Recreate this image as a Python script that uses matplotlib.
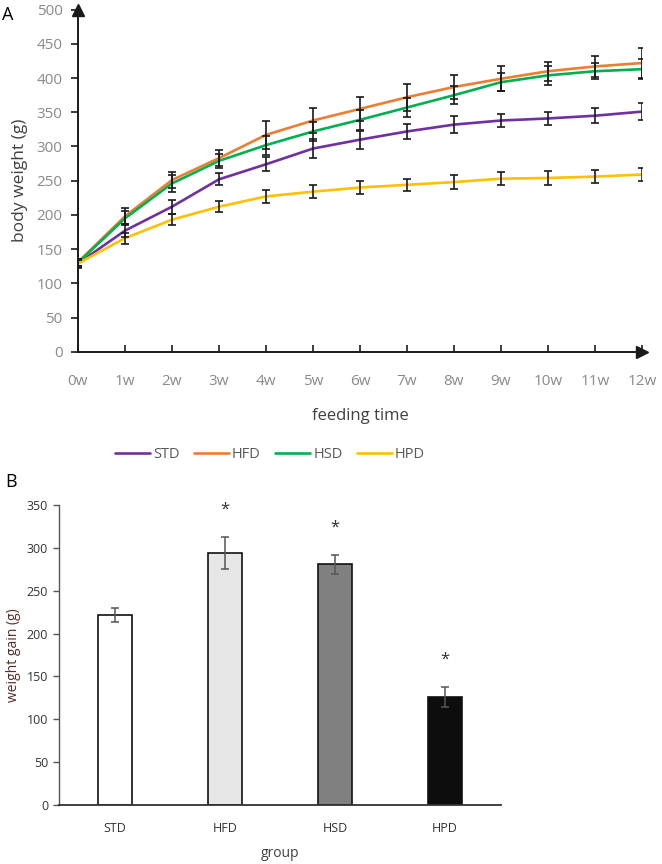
import matplotlib
matplotlib.use("Agg")
import matplotlib.pyplot as plt
import numpy as np

plt.rcParams['font.family'] = ['Open Sans', 'DejaVu Sans']

# ---- Panel A data ----
weeks = ['0w', '1w', '2w', '3w', '4w', '5w', '6w', '7w', '8w', '9w', '10w', '11w', '12w']
series_names = ['STD', 'HFD', 'HSD', 'HPD']
std_mean = [129, 177, 212, 252, 274, 297, 310, 322, 332, 338, 341, 345, 351]
hfd_mean = [131, 198, 251, 283, 317, 338, 355, 372, 387, 399, 410, 417, 422]
hsd_mean = [130, 195, 246, 279, 302, 322, 339, 357, 375, 394, 404, 410, 413]
hpd_mean = [129, 166, 193, 212, 227, 234, 240, 244, 248, 253, 254, 256, 259]
std_err = [6, 9, 10, 9, 10, 14, 13, 11, 12, 10, 10, 11, 12]
hfd_err = [5, 12, 12, 12, 20, 18, 18, 20, 17, 18, 14, 15, 22]
hsd_err = [5, 10, 12, 10, 14, 14, 15, 14, 13, 13, 14, 12, 15]
hpd_err = [5, 8, 8, 8, 9, 10, 10, 9, 10, 9, 10, 10, 10]
line_colors = ['#7030A0', '#ED7D31', '#00B050', '#FFC000']

# ---- Panel B data ----
groups = ['STD', 'HFD', 'HSD', 'HPD']
gain_mean = [222, 294, 281, 126]
gain_err = [8, 19, 11, 12]
gain_sig = ['', '*', '*', '*']
bar_colors = ['#ffffff', '#e6e6e6', '#808080', '#0d0d0d']

fig = plt.figure(figsize=(6.62, 8.64), dpi=100)

# ---------------- Panel A ----------------
axA = fig.add_axes([0.1178, 0.5929, 0.852, 0.3959])
x = np.arange(len(weeks))
means = [std_mean, hfd_mean, hsd_mean, hpd_mean]
errs = [std_err, hfd_err, hsd_err, hpd_err]
for i, (m, c, n) in enumerate(zip(means, line_colors, series_names)):
    axA.plot(x, m, color=c, lw=1.9, label=n, zorder=3 + i, solid_capstyle='round')
for i, (m, e) in enumerate(zip(means, errs)):
    axA.errorbar(x, m, yerr=e, fmt='none', ecolor='#1a1a1a', elinewidth=1.2,
                 capsize=3, capthick=1.2, zorder=8)

axA.set_xlim(0, 12)
axA.set_ylim(0, 500)
axA.set_yticks(np.arange(0, 501, 50))
axA.set_xticks(x)
axA.set_xticklabels(weeks)
for s in ['top', 'right']:
    axA.spines[s].set_visible(False)
for s in ['left', 'bottom']:
    axA.spines[s].set_color('#1a1a1a')
    axA.spines[s].set_linewidth(1.4)
axA.tick_params(axis='y', direction='out', length=5, width=1.2, color='#1a1a1a',
                labelsize=11, labelcolor='#8a8a8a', pad=6)
axA.tick_params(axis='x', direction='in', length=5, width=1.2, color='#1a1a1a',
                labelsize=11, labelcolor='#8a8a8a', pad=16)
axA.set_ylabel('body weight (g)', fontsize=12.5, color='#404040', labelpad=6)
axA.set_xlabel('feeding time', fontsize=12, color='#404040', labelpad=14)
# axis arrows
axA.plot([0], [1.0], marker='^', color='#1a1a1a', markersize=8,
         transform=axA.transAxes, clip_on=False, zorder=10)
axA.plot([1.0], [0], marker='>', color='#1a1a1a', markersize=8,
         transform=axA.transAxes, clip_on=False, zorder=10)

handles, labels = axA.get_legend_handles_labels()
fig.legend(handles, labels, loc='center', ncol=4, bbox_to_anchor=(0.408, 1 - 455 / 864),
           frameon=False, fontsize=10.5, handlelength=2.4, handletextpad=0.2,
           columnspacing=1.0, labelcolor='#595959')

fig.text(8 / 662, 1 - 15 / 864, 'A', fontsize=13, ha='center', va='center', color='black')
fig.text(11 / 662, 1 - 482 / 864, 'B', fontsize=13, ha='center', va='center', color='black')

# ---------------- Panel B ----------------
axB = fig.add_axes([0.0896, 0.0683, 0.6667, 0.3472])
xb = np.arange(len(groups))
axB.bar(xb, gain_mean, width=0.31, color=bar_colors, edgecolor='#111111', linewidth=1.2,
        zorder=2)
axB.errorbar(xb, gain_mean, yerr=gain_err, fmt='none', ecolor='#555555', elinewidth=1.1,
             capsize=3, capthick=1.1, zorder=3)
for xi, m, e, s in zip(xb, gain_mean, gain_err, gain_sig):
    if s:
        axB.text(xi, m + e + 31, s, ha='center', va='center', fontsize=12, color='#333333')
axB.set_xlim(-0.51, 3.51)
axB.set_ylim(0, 350)
axB.set_yticks(np.arange(0, 351, 50))
axB.set_xticks(xb)
axB.set_xticklabels(groups)
for s in ['top', 'right']:
    axB.spines[s].set_visible(False)
axB.spines['left'].set_color('#555555')
axB.spines['bottom'].set_color('#333333')
axB.spines['left'].set_linewidth(1.0)
axB.spines['bottom'].set_linewidth(1.3)
axB.tick_params(axis='y', direction='out', length=4, width=1.0, color='#555555',
                labelsize=9, labelcolor='#333333', pad=4)
axB.tick_params(axis='x', length=0, labelsize=9, labelcolor='#333333', pad=12)
axB.set_ylabel('weight gain (g)', fontsize=10, color='#5a2a2a', labelpad=4)
axB.set_xlabel('group', fontsize=10, color='#404040', labelpad=8)

fig.savefig('out.png', dpi=100)
